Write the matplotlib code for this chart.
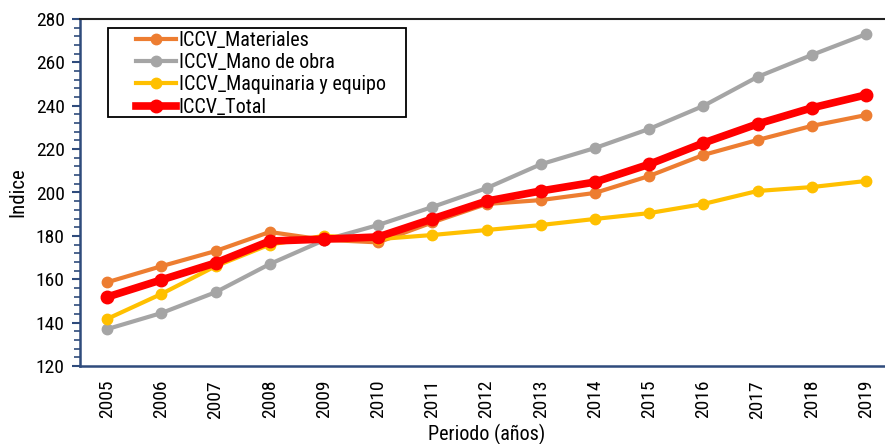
import matplotlib
matplotlib.use("Agg")
import matplotlib.pyplot as plt
from matplotlib.ticker import MultipleLocator
from matplotlib.patches import Rectangle

plt.rcParams['font.family'] = ['Roboto Condensed', 'DejaVu Sans']

# Índices del costo de construcción de vivienda, 2005-2019
anios = [2005, 2006, 2007, 2008, 2009, 2010, 2011, 2012, 2013, 2014, 2015, 2016, 2017, 2018, 2019]
materiales = [158.6, 166.0, 173.0, 181.8, 178.2, 177.0, 186.2, 194.7, 196.5, 199.8, 207.6, 217.3, 224.2, 230.7, 235.7]
mano_obra = [137.0, 144.4, 154.0, 167.0, 178.0, 185.0, 193.3, 202.0, 213.0, 220.5, 229.3, 239.9, 253.3, 263.4, 273.0]
maquinaria = [141.7, 153.2, 166.0, 176.0, 180.0, 178.5, 180.4, 182.7, 185.0, 187.8, 190.5, 194.7, 200.7, 202.5, 205.3]
total = [151.8, 159.7, 167.5, 177.6, 178.5, 179.5, 187.8, 196.0, 200.7, 204.8, 213.0, 222.8, 231.6, 239.0, 245.0]

fig = plt.figure(figsize=(8.85, 4.44), dpi=100)
# el eje de categorías va de 2004.5 a 2019.5; el borde derecho queda fuera de la figura
ax = fig.add_axes([80 / 885, 1 - 366 / 444, 813 / 885, 347 / 444])

ax.plot(anios, materiales, color='#ED7D31', lw=3, marker='o', ms=7.5, label='ICCV_Materiales')
ax.plot(anios, mano_obra, color='#A5A5A5', lw=3, marker='o', ms=7.5, label='ICCV_Mano de obra')
ax.plot(anios, maquinaria, color='#FFC000', lw=3, marker='o', ms=7.5, label='ICCV_Maquinaria y equipo')
ax.plot(anios, total, color='#FF0000', lw=5.5, marker='o', ms=9, label='ICCV_Total')

ax.set_xlim(2004.5, 2019.5)
ax.set_ylim(120, 280)
ax.set_xticks(anios)
ax.set_xticklabels([str(a) for a in anios], rotation=90, fontsize=14)
ax.yaxis.set_major_locator(MultipleLocator(20))
ax.yaxis.set_minor_locator(MultipleLocator(4))
ax.tick_params(axis='y', which='major', labelsize=14, length=6, width=1.5, color='#2F4B7C', pad=5)
ax.tick_params(axis='y', which='minor', length=4, width=1.2, color='#2F4B7C')
ax.tick_params(axis='x', length=0, pad=10)

ax.spines['left'].set_color('#2F4B7C')
ax.spines['left'].set_linewidth(1.8)
ax.spines['bottom'].set_color('#2F4B7C')
ax.spines['bottom'].set_linewidth(1.8)
ax.spines['top'].set_color('#222222')
ax.spines['top'].set_linewidth(1.5)
ax.spines['right'].set_visible(False)

ax.set_ylabel('Indice', fontsize=15, labelpad=6)
ax.set_xlabel('Periodo (años)', fontsize=14.5, labelpad=4)

# cuadro de la leyenda
fig.patches.append(Rectangle((108 / 885, 1 - 117 / 444), 298 / 885, 89 / 444,
                             transform=fig.transFigure, fill=False,
                             edgecolor='black', lw=1.3, zorder=5))
ax.legend(loc='upper left', bbox_to_anchor=(136 / 885, 1 - 31 / 444),
          bbox_transform=fig.transFigure, frameon=False, fontsize=14.5,
          handlelength=2.0, handletextpad=0.12, labelspacing=0.16,
          borderaxespad=0, borderpad=0)

fig.savefig('out.png', dpi=100)
